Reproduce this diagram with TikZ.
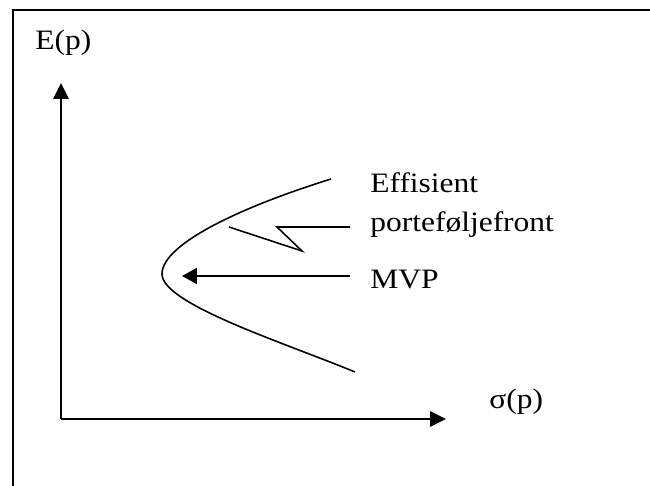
\documentclass[tikz,border=0pt]{standalone}
\usepackage{fontspec}
\setmainfont{Liberation Serif}[FakeStretch=1.12]
\usetikzlibrary{arrows.meta}

\tikzset{
  lbl/.style={font=\fontsize{16}{19}\selectfont, inner sep=0pt, anchor=base west},
  axis/.style={line width=1pt, -{Triangle[length=0.32cm,width=0.31cm]}},
  pointer/.style={line width=1pt, -{Triangle[length=0.30cm,width=0.32cm]}}
}

\begin{document}
\begin{tikzpicture}[x=0.02cm,y=-0.02cm]
\useasboundingbox (0,0) rectangle (650,486);
\draw[line width=1.2pt] (13,486) -- (13,10) -- (650,10);

% axes
\coordinate (origin) at (61,419);
\coordinate (ytip) at (61,83);
\coordinate (xtip) at (446,419);
\draw[axis] (origin) -- (ytip);
\draw[axis] (origin) -- (xtip);
\node[lbl] (Ep) at (35,50) {E(p)};
\node[lbl] (sigmap) at (489,409) {σ(p)};

% frontier
\coordinate (top) at (331,179);
\coordinate (mvpt) at (162,274);
\coordinate (bot) at (355,372);
\draw[line width=0.9pt] (top) .. controls (241,207) and (162,244) .. (mvpt)
  .. controls (162,304) and (285,343) .. (bot);

% labels
\node[lbl] (eff1) at (370,193) {Effisient};
\node[lbl] (eff2) at (370,232) {porteføljefront};
\node[lbl] (mvp) at (370,289) {MVP};

\coordinate (zstart) at (350,227);
\coordinate (zend) at (229,227);
\draw[line width=0.9pt] (zstart) -- (277,227) -- (302,251) -- (zend);

\coordinate (mvpfrom) at (350,276);
\coordinate (mvpto) at (182,276);
\draw[pointer] (mvpfrom) -- (mvpto);
\end{tikzpicture}
\end{document}
